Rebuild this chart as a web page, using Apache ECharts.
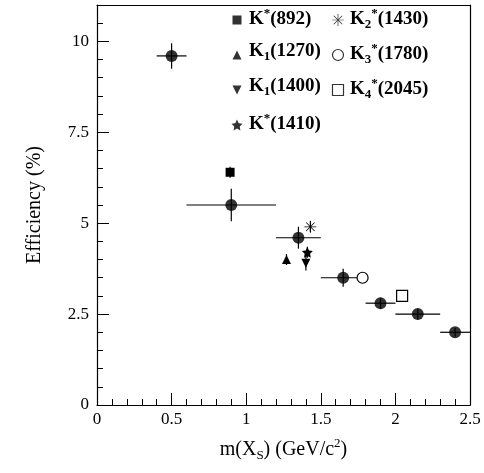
<!DOCTYPE html>
<html>
<head>
<meta charset="UTF-8">
<script src="https://cdn.jsdelivr.net/npm/echarts@6/dist/echarts.min.js"></script>
<style>
  body { margin: 0; background: #fff; }
  #c { width: 484px; height: 473px; }
</style>
</head>
<body>
<div id="c"></div>
<script>
// measured efficiency points: x, y, x low, x high, y err
const dataX = [0.5, 0.9, 1.35, 1.65, 1.9, 2.15, 2.4]
const dataY = [9.6, 5.5, 4.6, 3.5, 2.8, 2.5, 2.0]
const dataXlo = [0.4, 0.6, 1.2, 1.5, 1.8, 2.0, 2.3]
const dataXhi = [0.6, 1.2, 1.5, 1.8, 2.0, 2.3, 2.5]
const dataYerr = [0.35, 0.45, 0.3, 0.25, 0.15, 0.15, 0.12]

// resonances
const resNames = ['K*(892)', 'K1(1270)', 'K1(1400)', 'K*(1410)', 'K2*(1430)', 'K3*(1780)', 'K4*(2045)']
const resX = [0.892, 1.27, 1.40, 1.41, 1.43, 1.78, 2.045]
const resY = [6.4, 4.0, 3.9, 4.2, 4.9, 3.5, 3.0]
const resYerr = [0.15, 0.15, 0.2, 0.15, 0.15, 0.05, 0.05]

const STAR = 'path://M0,-10 L2.9,-4 L9.5,-3.1 L4.7,1.5 L5.9,8.1 L0,5 L-5.9,8.1 L-4.7,1.5 L-9.5,-3.1 L-2.9,-4 Z'
const AST = 'path://M-0.6,-10 L0.6,-10 L0.6,10 L-0.6,10 Z M-10,-0.6 L10,-0.6 L10,0.6 L-10,0.6 Z M-7.5,-6.6 L-6.6,-7.5 L7.5,6.6 L6.6,7.5 Z M7.5,-6.6 L6.6,-7.5 L-7.5,6.6 L-6.6,7.5 Z'
const resSym = [
  { symbol: 'rect', size: 9, color: '#000', border: 0 },
  { symbol: 'triangle', size: 9, color: '#000', border: 0 },
  { symbol: 'path://M0,10 L-10,-7 L10,-7 Z', size: 9, color: '#000', border: 0 },
  { symbol: STAR, size: 11, color: '#000', border: 0 },
  { symbol: AST, size: 12, color: '#000', border: 0 },
  { symbol: 'circle', size: 11, color: '#fff', border: 1.2 },
  { symbol: 'rect', size: 11, color: '#fff', border: 1.2 }
]

const serif = 'Liberation Serif'
const chart = echarts.init(document.getElementById('c'))

function errBars(api) {
  const x = api.value(0), y = api.value(1)
  const lo = api.coord([api.value(2), y]), hi = api.coord([api.value(3), y])
  const t = api.coord([x, y + api.value(4)]), b = api.coord([x, y - api.value(4)])
  const st = { stroke: '#000', lineWidth: 1.2 }
  return { type: 'group', children: [
    { type: 'line', shape: { x1: lo[0], y1: lo[1], x2: hi[0], y2: hi[1] }, style: st },
    { type: 'line', shape: { x1: t[0], y1: t[1], x2: b[0], y2: b[1] }, style: st }
  ] }
}

const series = [{
  type: 'custom', renderItem: (p, api) => errBars(api),
  data: dataX.map((x, i) => [x, dataY[i], dataXlo[i], dataXhi[i], dataYerr[i]]), z: 2
}, {
  type: 'scatter', symbol: 'circle', symbolSize: 12, itemStyle: { color: '#000' },
  data: dataX.map((x, i) => [x, dataY[i]]), z: 3
}, {
  type: 'custom', renderItem: (p, api) => errBars(api),
  data: resX.map((x, i) => [x, resY[i], x, x, resYerr[i]]), z: 2
}]
resX.forEach((x, i) => {
  const s = resSym[i]
  series.push({
    type: 'scatter', name: resNames[i], symbol: s.symbol, symbolSize: s.size, z: 4,
    itemStyle: { color: s.color, borderColor: '#000', borderWidth: s.border, opacity: 1 },
    data: [[x, resY[i]]]
  })
})

// legend (drawn as graphics to get sub/superscripts)
const rich = {
  b: { fontFamily: serif, fontWeight: 'bold', fontSize: 19, color: '#000' },
  sup: { fontFamily: serif, fontWeight: 'bold', fontSize: 13, color: '#000', verticalAlign: 'top', padding: [0, 0, 11, 0] },
  sub: { fontFamily: serif, fontWeight: 'bold', fontSize: 13, color: '#000', padding: [11, 0, 0, 0] }
}
const legendText = [
  '{b|K}{sup|*}{b|(892)}', '{b|K}{sub|1}{b|(1270)}', '{b|K}{sub|1}{b|(1400)}', '{b|K}{sup|*}{b|(1410)}',
  '{b|K}{sub|2}{sup|*}{b|(1430)}', '{b|K}{sub|3}{sup|*}{b|(1780)}', '{b|K}{sub|4}{sup|*}{b|(2045)}'
]
const legendPos = [[237, 20], [237, 55], [237, 90], [237, 125], [338, 20], [338, 55], [338, 90]]
const graphic = legendText.map((t, i) => ({
  type: 'text', left: legendPos[i][0] + 12, top: legendPos[i][1] - 13,
  style: { text: t, rich, fill: '#000' }
}))

const frameAxis = { axisLine: { show: true, onZero: false, lineStyle: { color: '#000', width: 1.2 } },
  axisTick: { show: false }, axisLabel: { show: false }, splitLine: { show: false } }

chart.setOption({
  animation: false,
  grid: { left: 97, right: 14, top: 5, bottom: 68 },
  xAxis: [{
    type: 'value', min: 0, max: 2.5, interval: 0.5,
    name: '{a|m(X}{s|S}{a|) (GeV/c}{p|2}{a|)}', nameLocation: 'middle', nameGap: 32,
    nameTextStyle: { rich: {
      a: { fontFamily: serif, fontSize: 20, color: '#000' },
      s: { fontFamily: serif, fontSize: 13, color: '#000', padding: [12, 0, 0, 0] },
      p: { fontFamily: serif, fontSize: 13, color: '#000', padding: [0, 0, 12, 0] }
    } },
    axisLine: { show: true, onZero: false, lineStyle: { color: '#000', width: 1.2 } },
    axisTick: { inside: true, length: 12, lineStyle: { color: '#000' } },
    minorTick: { show: true, splitNumber: 5, length: 6, lineStyle: { color: '#000' } },
    axisLabel: { fontFamily: serif, fontSize: 17, color: '#000', margin: 6 },
    splitLine: { show: false }
  }, Object.assign({ type: 'value', min: 0, max: 2.5, position: 'top' }, frameAxis)],
  yAxis: [{
    type: 'value', min: 0, max: 11, interval: 2.5,
    name: 'Efficiency (%)', nameLocation: 'middle', nameGap: 52,
    nameTextStyle: { fontFamily: serif, fontSize: 20, color: '#000' },
    axisLine: { show: true, onZero: false, lineStyle: { color: '#000', width: 1.2 } },
    axisTick: { inside: true, length: 12, lineStyle: { color: '#000' } },
    minorTick: { show: true, splitNumber: 5, length: 6, lineStyle: { color: '#000' } },
    axisLabel: { fontFamily: serif, fontSize: 17, color: '#000', margin: 8, showMaxLabel: false },
    splitLine: { show: false }
  }, Object.assign({ type: 'value', min: 0, max: 11, position: 'right' }, frameAxis)],
  graphic,
  series
})

// legend markers placed at the legend entry pixels
const markerSeries = legendPos.map((p, i) => {
  const s = resSym[i]
  return {
    type: 'scatter', symbol: s.symbol, symbolSize: s.size, z: 5, silent: true,
    itemStyle: { color: s.color, borderColor: '#000', borderWidth: s.border },
    data: [chart.convertFromPixel({ gridIndex: 0 }, p)]
  }
})
chart.setOption({ series: series.concat(markerSeries) })
</script>
</body>
</html>
